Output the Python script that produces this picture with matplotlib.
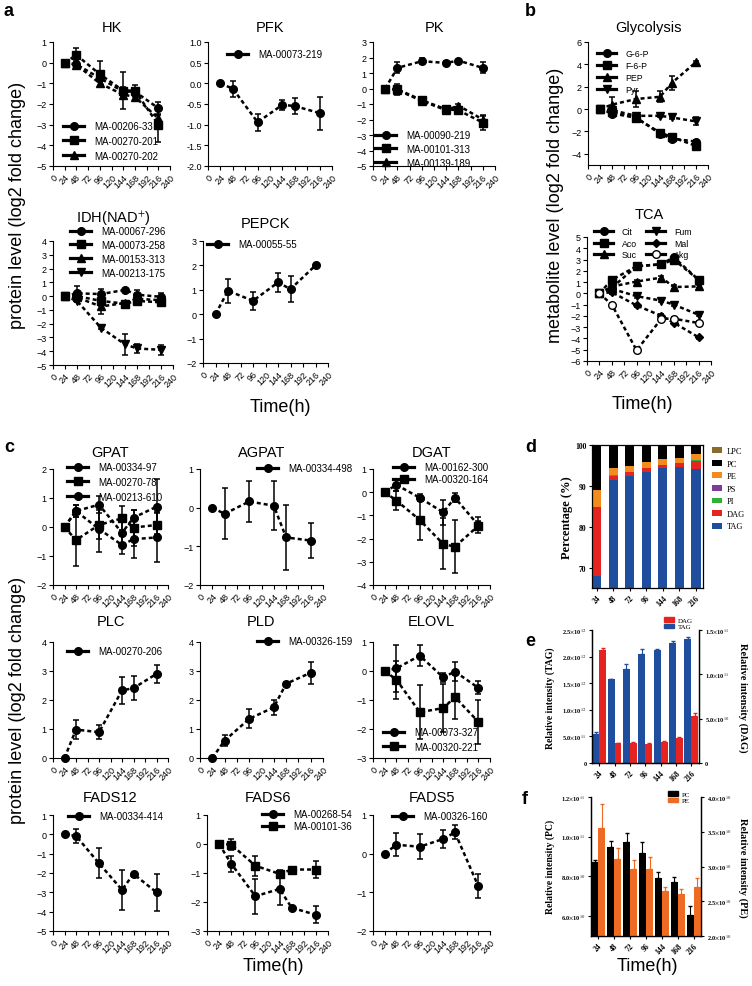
import numpy as np
import matplotlib
matplotlib.use('Agg')
import matplotlib.pyplot as plt
from matplotlib.lines import Line2D
from matplotlib.patches import Patch

W, H = 752, 987

# sampling times (h) of the line panels
hours = [24, 48, 96, 144, 168, 216]

# ---- panel a : protein level (log2 fold change) ----
hk_206_33 = [0, -0.08, -0.75, -1.40, -1.40, -2.20]
hk_206_33_err = [0, 0.25, 0.20, 0.20, 0.15, 0.30]
hk_270_201 = [0, 0.37, -0.56, -1.35, -1.35, -3.00]
hk_270_201_err = [0, 0.35, 0.64, 0.88, 0.25, 0.85]
hk_270_202 = [0, -0.10, -1.00, -1.55, -1.65, -2.70]
hk_270_202_err = [0, 0.20, 0.15, 0.20, 0.15, 0.15]

pfk_73_219 = [0, -0.13, -0.94, -0.52, -0.55, -0.72]
pfk_73_219_err = [0, 0.19, 0.21, 0.12, 0.20, 0.40]

pk_90_219 = [0, 1.33, 1.76, 1.65, 1.80, 1.33]
pk_90_219_err = [0, 0.35, 0.20, 0.15, 0.05, 0.35]
pk_101_313 = [0, -0.05, -0.75, -1.35, -1.40, -2.20]
pk_101_313_err = [0, 0.35, 0.15, 0.15, 0.10, 0.45]
pk_139_189 = [0, -0.10, -0.80, -1.40, -1.10, -2.00]
pk_139_189_err = [0, 0.20, 0.10, 0.10, 0.10, 0.30]

idh_67_296 = [0, 0.20, 0.15, 0.45, 0.10, -0.05]
idh_67_296_err = [0, 0.55, 0.40, 0.05, 0.35, 0.30]
idh_73_258 = [0, 0.00, -0.35, -0.55, -0.35, -0.45]
idh_73_258_err = [0, 0.30, 0.30, 0.10, 0.20, 0.25]
idh_153_313 = [0, -0.10, -0.75, -0.50, -0.20, -0.30]
idh_153_313_err = [0, 0.30, 0.55, 0.10, 0.20, 0.20]
idh_213_175 = [0, -0.35, -2.30, -3.50, -3.80, -3.90]
idh_213_175_err = [0, 0.10, 0.10, 0.75, 0.35, 0.35]

pepck_55_55 = [0, 0.96, 0.55, 1.30, 1.03, 2.00]
pepck_55_55_err = [0, 0.50, 0.37, 0.40, 0.53, 0.05]

# ---- panel b : metabolite level (log2 fold change) ----
g6p = [0, -0.40, -0.75, -2.20, -2.65, -2.90]
g6p_err = [0, 0.20, 0.20, 0.15, 0.15, 0.15]
f6p = [0, -0.25, -0.80, -2.10, -2.50, -3.30]
f6p_err = [0, 0.15, 0.20, 0.15, 0.15, 0.20]
pep = [0, 0.40, 0.90, 1.10, 2.35, 4.20]
pep_err = [0, 0.65, 0.70, 0.50, 0.60, 0.10]
pyr = [0, -0.10, -0.60, -0.60, -0.75, -1.10]
pyr_err = [0, 0.15, 0.15, 0.10, 0.10, 0.35]

cit = [0, 0.50, 2.40, 2.60, 3.20, 1.20]
aco = [0, 1.20, 2.40, 2.57, 3.00, 1.20]
suc = [0, 0.60, 1.05, 1.40, 0.56, 0.62]
fum = [0, 0.40, -0.25, -0.65, -1.00, -1.90]
mal = [0, 0.10, -1.07, -2.00, -2.60, -3.90]
akg = [0, -1.00, -5.05, -2.25, -2.25, -2.63]
tca_err = [0, 0.15, 0.15, 0.15, 0.15, 0.15]

# ---- panel c : protein level (log2 fold change) ----
gpat_334_97 = [0, 0.55, 0.77, -0.20, 0.32, 0.70]
gpat_334_97_err = [0, 0.20, 0.30, 0.50, 0.28, 0.95]
gpat_270_78 = [0, -0.45, 0.07, 0.30, -0.02, 0.07]
gpat_270_78_err = [0, 0.90, 0.50, 0.42, 0.62, 0.45]
gpat_213_610 = [0, 0.55, -0.07, -0.62, -0.42, -0.36]
gpat_213_610_err = [0, 0.20, 0.80, 0.30, 0.65, 0.85]

agpat_334_498 = [0, -0.16, 0.16, 0.05, -0.77, -0.85]
agpat_334_498_err = [0, 0.66, 0.54, 0.63, 0.83, 0.45]

dgat_162_300 = [0, 0.32, -0.24, -0.87, -0.24, -1.42]
dgat_162_300_err = [0, 0.25, 0.15, 0.54, 0.20, 0.33]
dgat_320_164 = [0, -0.36, -1.20, -2.23, -2.35, -1.45]
dgat_320_164_err = [0, 0.40, 0.85, 1.10, 1.15, 0.20]

plc_270_206 = [0, 0.98, 0.89, 2.33, 2.41, 2.90]
plc_270_206_err = [0, 0.32, 0.25, 0.48, 0.42, 0.30]

pld_326_159 = [0, 0.60, 1.35, 1.75, 2.56, 2.94]
pld_326_159_err = [0, 0.20, 0.33, 0.25, 0.05, 0.38]

elovl_73_327 = [0, 0.09, 0.53, -0.22, -0.02, -0.58]
elovl_73_327_err = [0, 0.80, 0.35, 0.15, 0.32, 0.22]
elovl_320_221 = [0, -0.30, -1.42, -1.28, -0.90, -1.75]
elovl_320_221_err = [0, 0.65, 0.93, 0.82, 0.75, 0.75]

fads12_334_414 = [0, -0.08, -1.50, -2.87, -2.05, -3.00]
fads12_334_414_err = [0, 0.38, 0.77, 1.05, 0.05, 0.97]

fads6_268_54 = [0, -0.68, -1.80, -1.55, -2.20, -2.44]
fads6_268_54_err = [0, 0.28, 0.60, 0.55, 0.05, 0.30]
fads6_101_36 = [0, -0.02, -0.75, -1.03, -0.88, -0.88]
fads6_101_36_err = [0, 0.20, 0.35, 0.15, 0.05, 0.28]

fads5_326_160 = [0, 0.23, 0.18, 0.38, 0.55, -0.84]
fads5_326_160_err = [0, 0.30, 0.33, 0.23, 0.18, 0.31]

# ---- panels d, e, f : lipid classes ----
bar_times = ['24', '48', '72', '96', '144', '168', '216']

tag_pct = [68.0, 91.5, 92.3, 93.5, 94.3, 94.5, 94.1]
dag_pct = [16.6, 1.0, 1.0, 0.8, 0.8, 1.0, 2.1]
pi_pct = [0.1, 0.05, 0.05, 0.05, 0.05, 0.05, 0.05]
ps_pct = [0.1, 0.05, 0.05, 0.05, 0.05, 0.05, 0.05]
pe_pct = [4.2, 1.8, 1.5, 1.5, 1.3, 1.3, 1.4]
pc_pct = [11.0, 5.6, 5.1, 4.1, 3.5, 3.1, 2.3]
lpc_pct = [0.05, 0.05, 0.05, 0.05, 0.05, 0.05, 0.05]

tag_int = [0.55e12, 1.57e12, 1.77e12, 2.04e12, 2.12e12, 2.26e12, 2.33e12]
tag_int_err = [0.04e12, 0.01e12, 0.09e12, 0.10e12, 0.02e12, 0.03e12, 0.04e12]
dag_int = [1.27e11, 2.2e10, 2.3e10, 2.1e10, 2.4e10, 2.8e10, 5.3e10]
dag_int_err = [0.03e11, 0.1e10, 0.1e10, 0.1e10, 0.1e10, 0.1e10, 0.3e10]

pc_int = [8.71e10, 9.47e10, 9.72e10, 9.18e10, 7.90e10, 7.70e10, 6.05e10]
pc_int_err = [0.10e10, 0.30e10, 0.45e10, 0.55e10, 0.30e10, 0.25e10, 0.45e10]
pe_int = [3.55e10, 3.11e10, 2.97e10, 2.96e10, 2.65e10, 2.60e10, 2.70e10]
pe_int_err = [0.35e10, 0.15e10, 0.12e10, 0.18e10, 0.05e10, 0.08e10, 0.13e10]

BLUE = '#1f4e9e'
RED = '#e52421'
ORANGE = '#f28c1e'
ORANGE_F = '#ef6a23'

plt.rcParams['font.family'] = ['Liberation Sans', 'DejaVu Sans']
plt.rcParams['mathtext.fontset'] = 'stix'

fig = plt.figure(figsize=(W / 100, H / 100), dpi=100)


def px_box(l, t, r, b):
    return [l / W, 1 - b / H, (r - l) / W, (b - t) / H]


def fx(x):
    return x / W


def fy(y):
    return 1 - y / H


def line_panel(box, title, ylim, yticks, series, leg_xy, leg_size=7,
               leg_space=0.5, ncol=1, ytick_fmt=None, title_pad=8):
    ax = fig.add_axes(px_box(*box))
    handles = []
    for label, marker, vals, errs in series:
        mfc = 'k'
        if marker == 'open':
            marker, mfc = 'o', 'white'
        ms = 4.5 if marker == 'D' else 5.5
        ax.errorbar(hours, vals, yerr=errs, fmt=marker, color='k', mfc=mfc, mec='k',
                    ms=ms, ls=(0, (1.6, 1.2)), lw=1.8, elinewidth=1.1,
                    capsize=2.5, capthick=1.1, clip_on=False)
        handles.append(Line2D([], [], color='k', lw=2.3, marker=marker, ms=ms,
                              mfc=mfc, mec='k'))
    ax.set_xlim(0, 240)
    ax.set_ylim(*ylim)
    ax.set_xticks(range(0, 241, 24))
    ax.set_xticklabels([str(t) for t in range(0, 241, 24)], rotation=45,
                       ha='right', rotation_mode='anchor')
    ax.set_yticks(yticks)
    if ytick_fmt:
        ax.set_yticklabels([ytick_fmt.format(v) for v in yticks])
    ax.tick_params(labelsize=6.5, length=3, width=0.8, pad=1.5)
    for s in ['top', 'right']:
        ax.spines[s].set_visible(False)
    for s in ['left', 'bottom']:
        ax.spines[s].set_linewidth(0.8)
    ax.set_title(title, fontsize=10.5, pad=title_pad)
    ax.legend(handles, [s[0] for s in series], loc='upper left', ncol=ncol,
              bbox_to_anchor=(fx(leg_xy[0]), fy(leg_xy[1])),
              bbox_transform=fig.transFigure, frameon=False, fontsize=leg_size,
              borderaxespad=0, borderpad=0, handlelength=2.2, handletextpad=1.0,
              labelspacing=leg_space, columnspacing=1.0)
    return ax


# ---------------- panel a ----------------
line_panel((53, 43, 170, 167), 'HK', (-5, 1), range(-5, 2),
           [('MA-00206-33', 'o', hk_206_33, hk_206_33_err),
            ('MA-00270-201', 's', hk_270_201, hk_270_201_err),
            ('MA-00270-202', '^', hk_270_202, hk_270_202_err)], (63, 122))
line_panel((208, 43, 332, 167), 'PFK', (-2, 1), np.arange(-2, 1.01, 0.5),
           [('MA-00073-219', 'o', pfk_73_219, pfk_73_219_err)], (227, 50),
           ytick_fmt='{:.1f}')
line_panel((373, 43, 495, 167), 'PK', (-5, 3), range(-5, 4),
           [('MA-00090-219', 'o', pk_90_219, pk_90_219_err),
            ('MA-00101-313', 's', pk_101_313, pk_101_313_err),
            ('MA-00139-189', '^', pk_139_189, pk_139_189_err)], (375, 131),
           leg_space=0.4)
line_panel((53, 242, 173, 366), 'IDH(NAD$^{+}$)', (-5, 4), range(-5, 5),
           [('MA-00067-296', 'o', idh_67_296, idh_67_296_err),
            ('MA-00073-258', 's', idh_73_258, idh_73_258_err),
            ('MA-00153-313', '^', idh_153_313, idh_153_313_err),
            ('MA-00213-175', 'v', idh_213_175, idh_213_175_err)], (70, 227),
           leg_space=0.4, title_pad=14)
line_panel((203, 242, 328, 364), 'PEPCK', (-2, 3), range(-2, 4),
           [('MA-00055-55', 'o', pepck_55_55, pepck_55_55_err)], (207, 240),
           title_pad=10)

# ---------------- panel b ----------------
line_panel((588, 43, 708, 166), 'Glycolysis', (-5, 6), range(-4, 7, 2),
           [('G-6-P', 'o', g6p, g6p_err),
            ('F-6-P', 's', f6p, f6p_err),
            ('PEP', '^', pep, pep_err),
            ('Pyr', 'v', pyr, pyr_err)], (597, 50), leg_size=6.3, leg_space=0.35)
line_panel((587, 238, 711, 362), 'TCA', (-6, 5), range(-6, 6),
           [('Cit', 'o', cit, tca_err),
            ('Aco', 's', aco, tca_err),
            ('Suc', '^', suc, tca_err),
            ('Fum', 'v', fum, tca_err),
            ('Mal', 'D', mal, tca_err),
            ('Akg', 'open', akg, tca_err)], (594, 228), leg_size=6.3,
           leg_space=0.3, ncol=2, title_pad=14)

# ---------------- panel c ----------------
line_panel((53, 470, 168, 586), 'GPAT', (-2, 2), range(-2, 3),
           [('MA-00334-97', 'o', gpat_334_97, gpat_334_97_err),
            ('MA-00270-78', 's', gpat_270_78, gpat_270_78_err),
            ('MA-00213-610', 'o', gpat_213_610, gpat_213_610_err)], (67, 463),
           leg_space=0.5, title_pad=9)
line_panel((200, 470, 323, 586), 'AGPAT', (-2, 1), range(-2, 2),
           [('MA-00334-498', 'o', agpat_334_498, agpat_334_498_err)], (257, 464),
           title_pad=9)
line_panel((373, 470, 490, 586), 'DGAT', (-4, 1), range(-4, 2),
           [('MA-00162-300', 'o', dgat_162_300, dgat_162_300_err),
            ('MA-00320-164', 's', dgat_320_164, dgat_320_164_err)], (393, 463),
           leg_space=0.2, title_pad=9)

line_panel((53, 643, 168, 759), 'PLC', (0, 4), range(0, 5),
           [('MA-00270-206', 'o', plc_270_206, plc_270_206_err)], (67, 647),
           title_pad=12)
line_panel((200, 643, 323, 759), 'PLD', (0, 4), range(0, 5),
           [('MA-00326-159', 'o', pld_326_159, pld_326_159_err)], (257, 637),
           title_pad=12)
line_panel((373, 643, 490, 759), 'ELOVL', (-3, 1), range(-3, 2),
           [('MA-00073-327', 'o', elovl_73_327, elovl_73_327_err),
            ('MA-00320-221', 's', elovl_320_221, elovl_320_221_err)], (383, 728),
           title_pad=12)

line_panel((53, 816, 168, 932), 'FADS12', (-5, 1), range(-5, 2),
           [('MA-00334-414', 'o', fads12_334_414, fads12_334_414_err)], (68, 812),
           title_pad=10)
line_panel((207, 816, 328, 932), 'FADS6', (-3, 1), range(-3, 2),
           [('MA-00268-54', 'o', fads6_268_54, fads6_268_54_err),
            ('MA-00101-36', 's', fads6_101_36, fads6_101_36_err)], (262, 810),
           leg_space=0.2, title_pad=10)
line_panel((373, 816, 490, 932), 'FADS5', (-2, 1), range(-2, 2),
           [('MA-00326-160', 'o', fads5_326_160, fads5_326_160_err)], (392, 812),
           title_pad=10)

# shared labels for the line panels
for x, y, txt in [(18, 205, 'protein level (log2 fold change)'),
                  (18, 700, 'protein level (log2 fold change)'),
                  (555, 205, 'metabolite level (log2 fold change)')]:
    fig.text(fx(x), fy(y), txt, rotation=90, ha='center', va='center', fontsize=13)
for x, y in [(280, 407), (642, 405), (273, 967), (647, 967)]:
    fig.text(fx(x), fy(y), 'Time(h)', ha='center', va='center', fontsize=13)

for x, y, txt in [(4, 12, 'a'), (525, 12, 'b'), (4, 448, 'c'), (525, 448, 'd'),
                  (525, 642, 'e'), (522, 800, 'f')]:
    fig.text(fx(x), fy(y), txt, ha='left', va='center', fontsize=13, fontweight='bold')

# ---------------- panel d ----------------
serif = ['Liberation Serif', 'DejaVu Serif']
xb = np.arange(len(bar_times))

axd = fig.add_axes(px_box(592, 446, 703, 589))
bottom = np.zeros(len(bar_times))
d_layers = [('TAG', tag_pct, BLUE), ('DAG', dag_pct, RED), ('PI', pi_pct, '#2eb135'),
            ('PS', ps_pct, '#7d3c98'), ('PE', pe_pct, ORANGE), ('PC', pc_pct, 'black'),
            ('LPC', lpc_pct, '#8b6a2e')]
for name, vals, col in d_layers:
    axd.bar(xb, vals, 0.55, bottom=bottom, color=col, label=name)
    bottom = bottom + np.array(vals)
axd.set_ylim(65, 100)
axd.set_xlim(-0.28, 6.42)
axd.set_yticks([70, 80, 90, 100])
axd.set_xticks(xb)
axd.set_xticklabels(bar_times, rotation=45, ha='right', rotation_mode='anchor')
for lab in axd.get_xticklabels() + axd.get_yticklabels():
    lab.set_family(serif)
    lab.set_fontweight('bold')
axd.tick_params(labelsize=5.5, length=2.5, width=0.8, pad=1.5)
for s in axd.spines.values():
    s.set_linewidth(0.9)
fig.text(fx(567), fy(518), 'Percentage (%)', rotation=90, ha='center', va='center',
         fontsize=9, fontweight='bold', family=serif)
hd, ld = axd.get_legend_handles_labels()
axd.legend(hd[::-1], ld[::-1], loc='upper left', bbox_to_anchor=(fx(712), fy(448)),
           bbox_transform=fig.transFigure, frameon=False, borderpad=0, borderaxespad=0,
           handlelength=1.2, handleheight=0.7, handletextpad=0.6, labelspacing=0.55,
           prop={'family': serif, 'size': 6})

# ---------------- panel e ----------------
axe = fig.add_axes(px_box(592, 631, 699, 764))
axe2 = axe.twinx()
bw = 0.45
axe.bar(xb - bw / 2, tag_int, bw, color=BLUE, label='TAG')
axe.errorbar(xb - bw / 2, tag_int, yerr=[np.zeros(7), tag_int_err], fmt='none',
             ecolor=BLUE, elinewidth=0.8, capsize=1.5)
axe2.bar(xb + bw / 2, dag_int, bw, color=RED, label='DAG')
axe2.errorbar(xb + bw / 2, dag_int, yerr=[np.zeros(7), dag_int_err], fmt='none',
              ecolor=RED, elinewidth=0.8, capsize=1.5)
axe.set_ylim(0, 2.5e12)
axe2.set_ylim(0, 1.5e11)
axe.set_xlim(-0.47, 6.5)
axe.set_yticks(np.arange(0, 2.51e12, 0.5e12))
axe.set_yticklabels(['0', r'5.0$\times$10$^{11}$', r'1.0$\times$10$^{12}$',
                     r'1.5$\times$10$^{12}$', r'2.0$\times$10$^{12}$',
                     r'2.5$\times$10$^{12}$'])
axe2.set_yticks(np.arange(0, 1.51e11, 0.5e11))
axe2.set_yticklabels(['0', r'5.0$\times$10$^{10}$', r'1.0$\times$10$^{11}$',
                      r'1.5$\times$10$^{11}$'])
axe.set_xticks(xb)
axe.set_xticklabels(bar_times, rotation=45, ha='right', rotation_mode='anchor')
for a in (axe, axe2):
    a.spines['top'].set_visible(False)
    for s in a.spines.values():
        s.set_linewidth(0.9)
    a.tick_params(labelsize=4.5, length=2.5, width=0.8, pad=1.5)
    for lab in a.get_xticklabels() + a.get_yticklabels():
        lab.set_family(serif)
        lab.set_fontweight('bold')
axe.tick_params(axis='x', labelsize=5.5)
fig.text(fx(550), fy(698), 'Relative intensity (TAG)', rotation=90, ha='center',
         va='center', fontsize=7, fontweight='bold', family=serif)
fig.text(fx(743), fy(698), 'Relative intensity (DAG)', rotation=270, ha='center',
         va='center', fontsize=7.5, fontweight='bold', family=serif)
axe2.legend([Patch(color=RED), Patch(color=BLUE)], ['DAG', 'TAG'], loc='upper left',
            bbox_to_anchor=(fx(664), fy(618)), bbox_transform=fig.transFigure,
            frameon=False, borderpad=0, borderaxespad=0, handlelength=1.5,
            handleheight=0.7, handletextpad=0.5, labelspacing=0.1,
            prop={'family': serif, 'size': 5})

# ---------------- panel f ----------------
axf = fig.add_axes(px_box(591, 798, 701, 937))
axf2 = axf.twinx()
bw = 0.44
axf.bar(xb - bw / 2, pc_int, bw, color='black', label='PC')
axf.errorbar(xb - bw / 2, pc_int, yerr=[np.zeros(7), pc_int_err], fmt='none',
             ecolor='black', elinewidth=0.8, capsize=1.5)
axf2.bar(xb + bw / 2, pe_int, bw, color=ORANGE_F, label='PE')
axf2.errorbar(xb + bw / 2, pe_int, yerr=[np.zeros(7), pe_int_err], fmt='none',
              ecolor=ORANGE_F, elinewidth=0.8, capsize=1.5)
axf.set_ylim(5e10, 1.2e11)
axf2.set_ylim(2e10, 4e10)
axf.set_xlim(-0.45, 6.45)
axf.set_yticks([6e10, 8e10, 1.0e11, 1.2e11])
axf.set_yticklabels([r'6.0$\times$10$^{10}$', r'8.0$\times$10$^{10}$',
                     r'1.0$\times$10$^{11}$', r'1.2$\times$10$^{11}$'])
axf2.set_yticks(np.arange(2e10, 4.01e10, 0.5e10))
axf2.set_yticklabels([r'2.0$\times$10$^{10}$', r'2.5$\times$10$^{10}$',
                      r'3.0$\times$10$^{10}$', r'3.5$\times$10$^{10}$',
                      r'4.0$\times$10$^{10}$'])
axf.set_xticks(xb)
axf.set_xticklabels(bar_times, rotation=45, ha='right', rotation_mode='anchor')
for a in (axf, axf2):
    a.spines['top'].set_visible(False)
    for s in a.spines.values():
        s.set_linewidth(0.9)
    a.tick_params(labelsize=4.5, length=2.5, width=0.8, pad=1.5)
    for lab in a.get_xticklabels() + a.get_yticklabels():
        lab.set_family(serif)
        lab.set_fontweight('bold')
axf.tick_params(axis='x', labelsize=5.5)
fig.text(fx(550), fy(867), 'Relative intensity (PC)', rotation=90, ha='center',
         va='center', fontsize=7, fontweight='bold', family=serif)
fig.text(fx(743), fy(868), 'Relative intensity (PE)', rotation=270, ha='center',
         va='center', fontsize=7.5, fontweight='bold', family=serif)
axf2.legend([Patch(color='black'), Patch(color=ORANGE_F)], ['PC', 'PE'],
            loc='upper left', bbox_to_anchor=(fx(668), fy(792)),
            bbox_transform=fig.transFigure, frameon=False, borderpad=0,
            borderaxespad=0, handlelength=1.5, handleheight=0.7, handletextpad=0.5,
            labelspacing=0.1, prop={'family': serif, 'size': 5})

fig.savefig('out.png', dpi=100)
